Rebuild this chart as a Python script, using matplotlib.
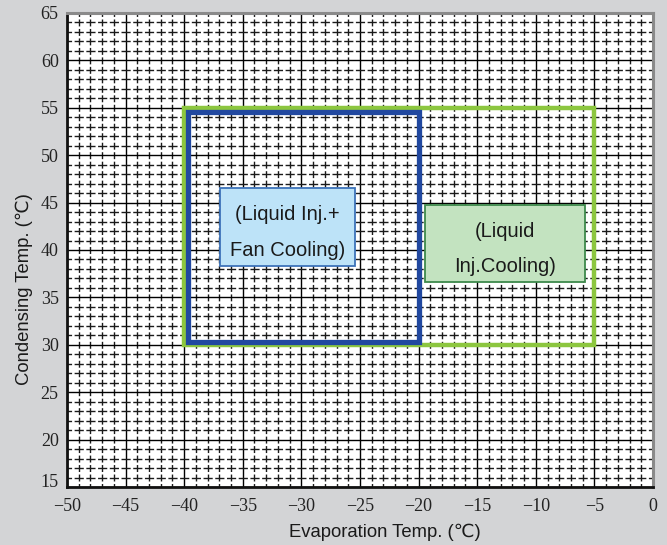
import matplotlib.pyplot as plt
from matplotlib.patches import Rectangle
from matplotlib.ticker import MultipleLocator
from matplotlib.transforms import ScaledTranslation

# Axis ranges and tick labels
x_ticks = [-50, -45, -40, -35, -30, -25, -20, -15, -10, -5, 0]
y_ticks = [15, 20, 25, 30, 35, 40, 45, 50, 55, 60, 65]

# Operating envelopes (evaporation temp. range, condensing temp. range)
liquid_inj_x = [-40, -5]
liquid_inj_y = [30, 55]
fan_cool_x = [-39.7, -20]
fan_cool_y = [30.3, 54.6]

# Label boxes (x0, x1, y0, y1) and their text
fan_box = [-36.95, -25.43, 38.31, 46.54]
fan_text = ['(Liquid Inj.+', 'Fan Cooling)']
inj_box = [-19.45, -5.8, 36.62, 44.75]
inj_text = ['(Liquid', 'Inj.Cooling)']

bg = '#d3d4d6'
sans = ['Liberation Sans', 'DejaVu Sans']

fig = plt.figure(figsize=(6.67, 5.45), dpi=100, facecolor=bg)
ax = fig.add_axes([0.1004, 0.1064, 0.8786, 0.8698])
ax.set_facecolor('white')
ax.set_xlim(-50, 0)
ax.set_ylim(15, 65)

ax.set_xticks(x_ticks)
ax.set_yticks(y_ticks)
ax.set_xticklabels([f'\u2212{abs(v)}' if v < 0 else str(v) for v in x_ticks])
ax.set_yticklabels([str(v) for v in y_ticks])
ax.xaxis.set_minor_locator(MultipleLocator(1))
ax.yaxis.set_minor_locator(MultipleLocator(1))
ax.tick_params(which='both', length=0, labelsize=13, colors='#222222')
ax.tick_params(axis='x', pad=8)
ax.tick_params(axis='y', pad=6)
for lab in ax.get_xticklabels() + ax.get_yticklabels():
    lab.set_family('Liberation Serif')
# bottom y label sits a little higher in the original
ylabs = ax.get_yticklabels()
ylabs[0].set_transform(ylabs[0].get_transform() + ScaledTranslation(0, 5 / 72, fig.dpi_scale_trans))

# grid: solid every 5, broken lines every 1 (crosses at each intersection)
ax.grid(which='major', color='black', linewidth=1.0, linestyle='-')
ax.xaxis.grid(which='minor', color='#1a1a1a', linewidth=1.0, linestyle=(2.5, (5.0, 1.826)))
ax.yaxis.grid(which='minor', color='#1a1a1a', linewidth=1.0, linestyle=(3.3, (6.6, 1.838)))
ax.set_axisbelow(True)

for side in ['left', 'bottom']:
    ax.spines[side].set_color('#111111')
    ax.spines[side].set_linewidth(2)
for side in ['top', 'right']:
    ax.spines[side].set_color('#8a8a8a')
    ax.spines[side].set_linewidth(2.2)

# envelopes
ax.add_patch(Rectangle((liquid_inj_x[0], liquid_inj_y[0]),
                       liquid_inj_x[1] - liquid_inj_x[0], liquid_inj_y[1] - liquid_inj_y[0],
                       fill=False, edgecolor='#8cc63f', linewidth=3.2, zorder=3))
ax.add_patch(Rectangle((fan_cool_x[0], fan_cool_y[0]),
                       fan_cool_x[1] - fan_cool_x[0], fan_cool_y[1] - fan_cool_y[0],
                       fill=False, edgecolor='#2148a0', linewidth=3.8, zorder=4))

# label boxes
def label_box(box, lines, face, edge):
    x0, x1, y0, y1 = box
    ax.add_patch(Rectangle((x0, y0), x1 - x0, y1 - y0, facecolor=face,
                           edgecolor=edge, linewidth=1.3, zorder=5))
    xc = (x0 + x1) / 2
    h = y1 - y0
    ax.text(xc, y1 - h * 0.34, lines[0], ha='center', va='center',
            fontsize=14.5, family=sans, color='#1a1a1a', zorder=6)
    ax.text(xc, y1 - h * 0.8, lines[1], ha='center', va='center',
            fontsize=14.5, family=sans, color='#1a1a1a', zorder=6)

label_box(fan_box, fan_text, '#bde3f8', '#3d73b9')
label_box(inj_box, inj_text, '#c3e3c0', '#3e8a4c')

fig.text(385 / 667, 1 - 537 / 545, 'Evaporation Temp. (\u2103)', ha='center', va='baseline',
         fontsize=13.3, family=sans, color='#1a1a1a')
fig.text(24 / 667, 1 - 289 / 545, 'Condensing Temp. (\u2103)', ha='center', va='center',
         rotation=90, fontsize=13.3, family=sans, color='#1a1a1a')

fig.savefig('out.png', dpi=100, facecolor=bg)
